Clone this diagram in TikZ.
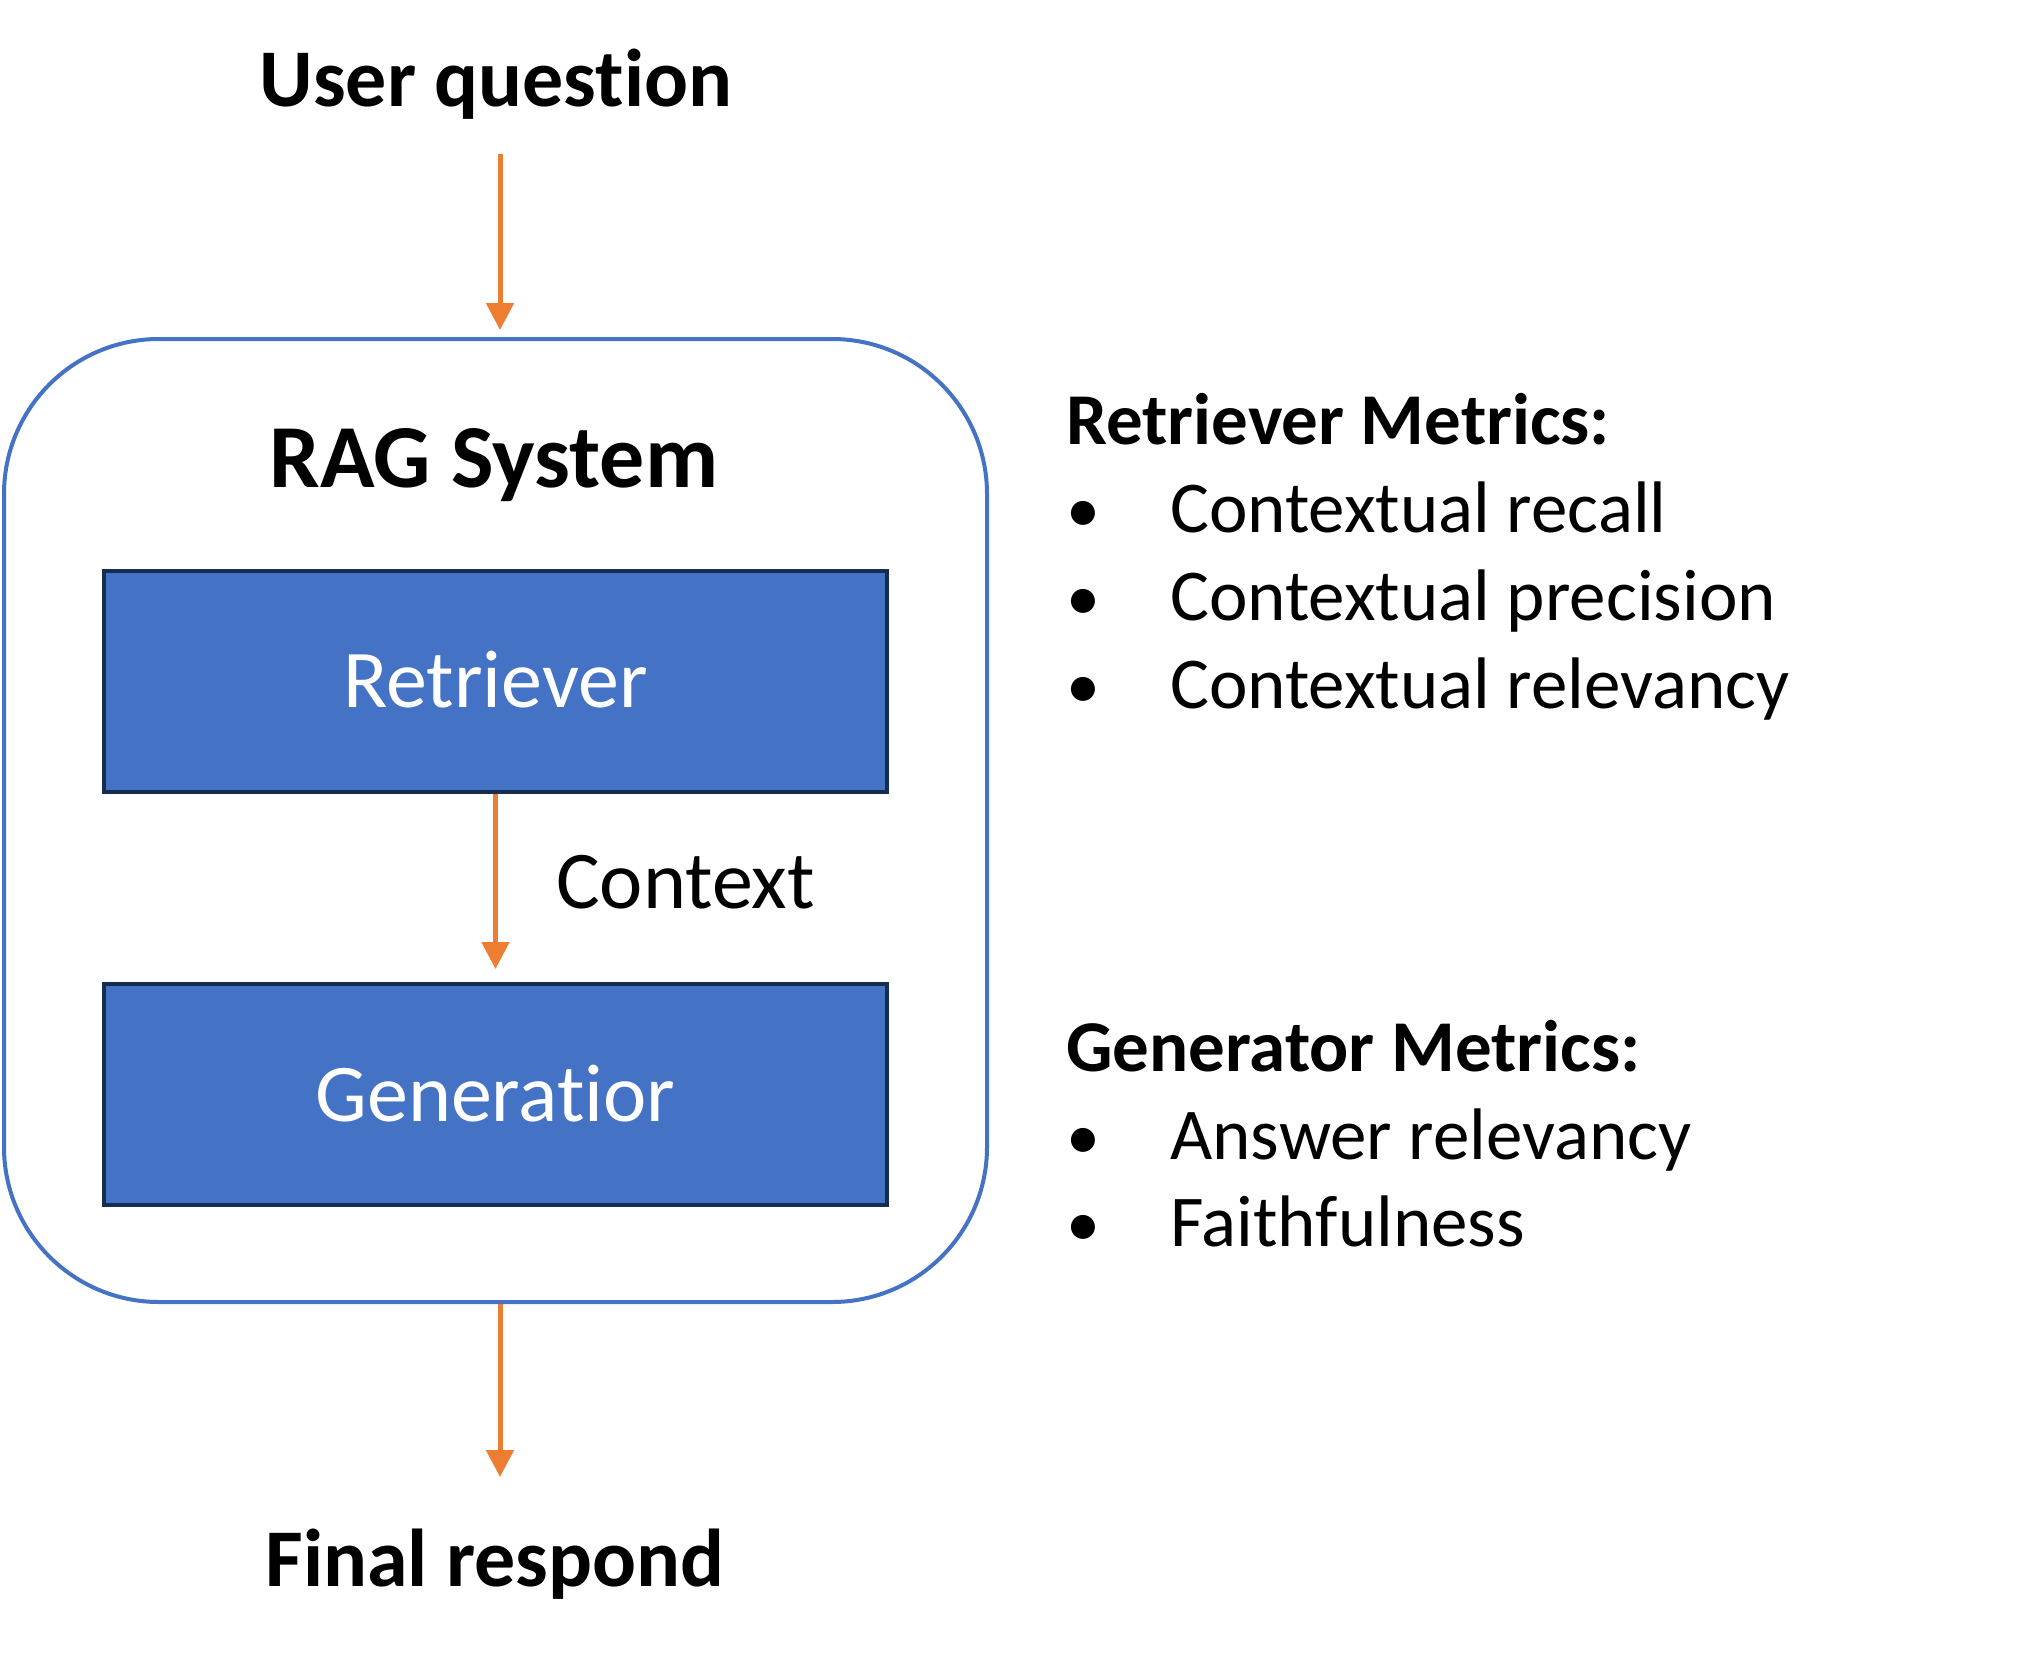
\documentclass[tikz,border=0pt]{standalone}
\usepackage{fontspec}
\setmainfont{Carlito}[Ligatures={NoCommon}]
\usetikzlibrary{arrows.meta}
\definecolor{boxblue}{HTML}{4472C4}
\definecolor{navy}{HTML}{172C51}
\definecolor{arrorange}{HTML}{ED7D31}
\tikzset{
  bigtxt/.style={inner sep=0pt, font=\fontsize{82}{98}\selectfont},
  sidetxt/.style={inner sep=0pt, anchor=base west, font=\fontsize{73}{87}\selectfont},
  bul/.style={inner sep=0pt, anchor=base, font=\fontsize{68}{80}\selectfont},
  compbox/.style={draw=navy, line width=4pt, fill=boxblue, minimum width=783pt, minimum height=221pt, inner sep=0pt, text=white},
  arr/.style={draw=arrorange, line width=5pt, -{Triangle[length=27pt,width=27pt]}}
}
\begin{document}
\begin{tikzpicture}[x=1pt,y=-1pt]
\useasboundingbox (0,0) rectangle (2021,1659);
\fill[white] (0,0) rectangle (2021,1659);
% outer RAG system box
\node[draw=boxblue, line width=4pt, rounded corners=155pt, minimum width=983pt, minimum height=963pt, inner sep=0pt] (rag) at (495.5,820.5) {};
\node[bigtxt, anchor=base, font=\fontsize{90}{108}\selectfont\bfseries] (ragt) at (494,487) {RAG System};
% top and bottom labels
\node[bigtxt, anchor=base, font=\fontsize{82}{98}\selectfont\bfseries] (uq) at (496,107) {User question};
\node[bigtxt, anchor=base, font=\fontsize{82}{98}\selectfont\bfseries] (fr) at (495,1586) {Final respond};
% components
\node[compbox] (ret) at (495.5,681.5) {};
\node[bigtxt, anchor=base, text=white] (rett) at (495.5,707) {Retriever};
\node[compbox] (gen) at (495.5,1094.5) {};
\node[bigtxt, anchor=base, text=white] (gent) at (495.5,1121) {Generatior};
\node[bigtxt, anchor=base west] (ctx) at (556,908) {Context};
% connectors
\coordinate (a1s) at (500,154);
\draw[arr, shorten >=7pt] (a1s) -- (a1s |- rag.north);
\draw[arr, shorten >=13pt] (ret.south) -- (gen.north);
\coordinate (a3e) at (500,1477);
\draw[arr] (rag.south -| a3e) -- (a3e);
% metrics
\node[sidetxt, font=\fontsize{73}{87}\selectfont\bfseries] (rm) at (1066,444) {Retriever Metrics:};
\node[bul] (b1) at (1083,532) {•};
\node[sidetxt] (m1) at (1170,532) {Contextual recall};
\node[bul] (b2) at (1083,620) {•};
\node[sidetxt] (m2) at (1170,620) {Contextual precision};
\node[bul] (b3) at (1083,708) {•};
\node[sidetxt] (m3) at (1170,708) {Contextual relevancy};
\node[sidetxt, font=\fontsize{73}{87}\selectfont\bfseries] (gm) at (1066,1071) {Generator Metrics:};
\node[bul] (b4) at (1083,1159) {•};
\node[sidetxt] (m4) at (1170,1159) {Answer relevancy};
\node[bul] (b5) at (1083,1246) {•};
\node[sidetxt] (m5) at (1170,1246) {Faithfulness};
\end{tikzpicture}
\end{document}
